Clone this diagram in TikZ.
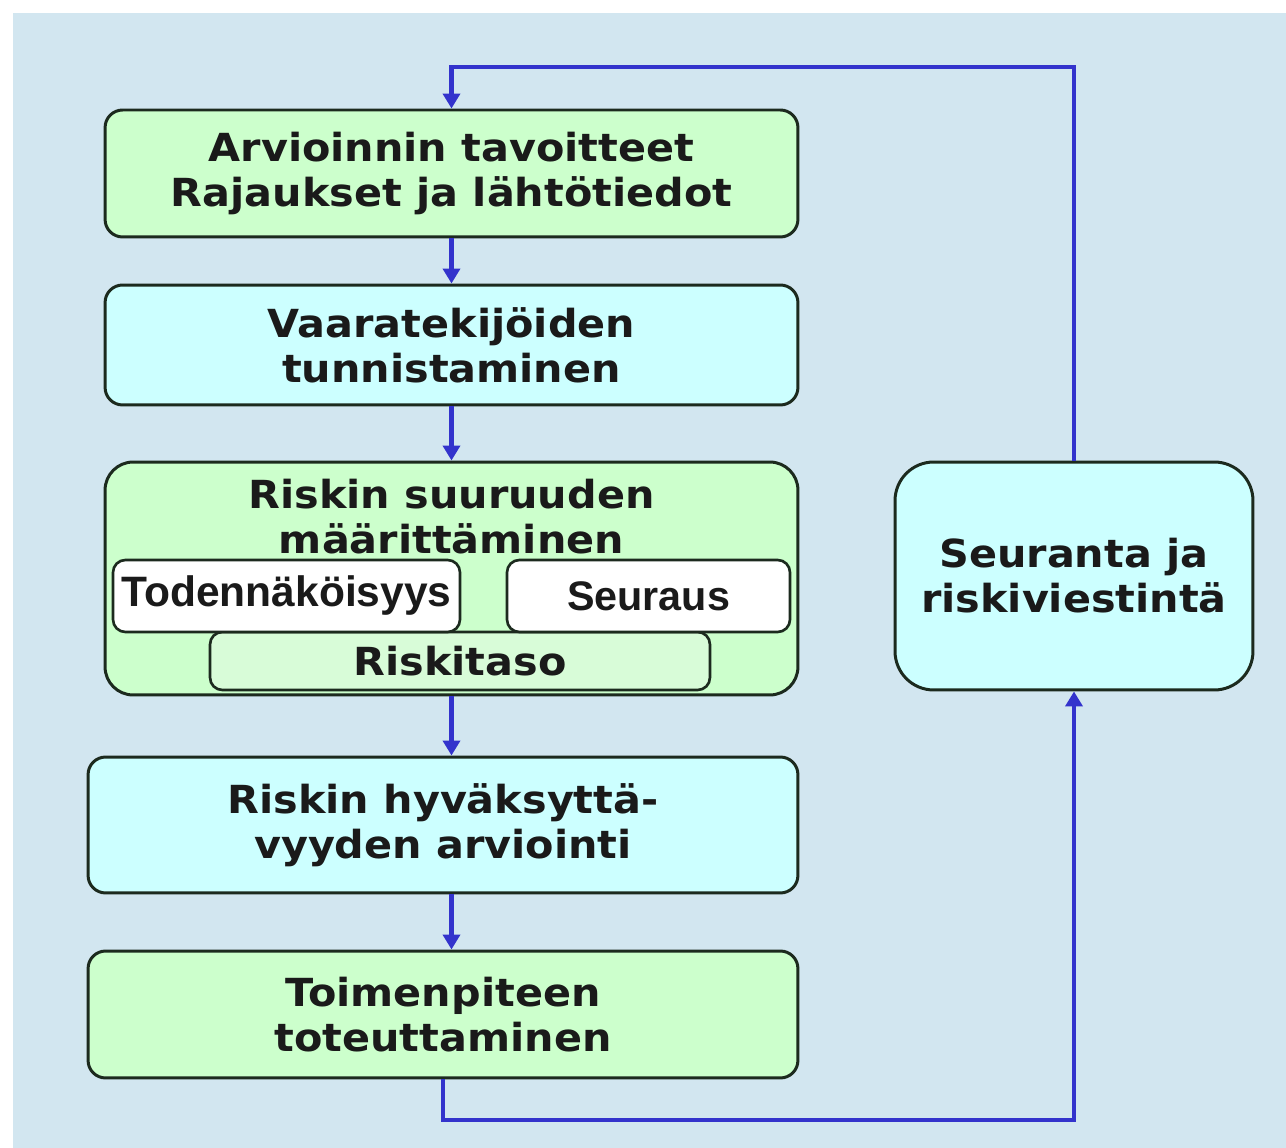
\documentclass[tikz,border=0pt]{standalone}
\usepackage{fontspec}
\setmainfont{DejaVu Sans}[FakeStretch=1.07]
\newfontfamily\narrowfont{Liberation Sans}
\usepackage{xcolor}
\definecolor{rkback}{HTML}{D2E6F0}
\definecolor{rkgreen}{HTML}{CCFFCC}
\definecolor{rkgreenlight}{HTML}{D8FCD8}
\definecolor{rkcyan}{HTML}{CCFFFF}
\definecolor{rkedge}{HTML}{1C2A1E}
\definecolor{rkblue}{HTML}{3333CC}
\definecolor{rktext}{HTML}{1A1A1A}
\usetikzlibrary{arrows.meta, positioning}

\begin{document}
\begin{tikzpicture}[x=0.02cm, y=-0.02cm,
    stage/.style={draw=rkedge, line width=1.7pt, rounded corners=10pt,
      align=center, inner sep=0pt, text=rktext,
      font=\fontsize{22}{25.6}\selectfont\bfseries},
    greenstage/.style={stage, fill=rkgreen},
    cyanstage/.style={stage, fill=rkcyan},
    part/.style={draw=rkedge, line width=1.5pt, rounded corners=7pt,
      inner sep=0pt, text=rktext},
    flow/.style={draw=rkblue, line width=2.3pt,
      -{Triangle[width=0.34cm, length=0.3cm]}}]
  % background
  \useasboundingbox (0,0) rectangle (1286,1148);
  \fill[rkback] (13,13) rectangle (1286,1148);

  % Box 1
  \node[greenstage, minimum width=13.86cm, minimum height=2.54cm] (goals)
       at (451.5,173.5) {Arvioinnin tavoitteet\\Rajaukset ja lähtötiedot};

  % Box 2
  \node[cyanstage, minimum width=13.86cm, minimum height=2.4cm] (hazard)
       at (451.5,345) {Vaaratekijöiden\\tunnistaminen};

  % Box 3 with its parts
  \node[greenstage, rounded corners=16pt, minimum width=13.86cm,
        minimum height=4.66cm] (sizebox) at (451.5,578.5) {};
  \node[align=center, text=rktext, font=\fontsize{22}{25.6}\selectfont\bfseries]
       (sizetitle) at (451.5,517) {Riskin suuruuden\\määrittäminen};
  \node[part, fill=rkgreenlight, minimum width=10cm, minimum height=1.16cm,
        font=\fontsize{22}{25.6}\selectfont\bfseries] (level) at (460,661) {Riskitaso};
  \node[part, fill=white, minimum width=6.94cm, minimum height=1.44cm,
        font=\narrowfont\fontsize{24.2}{27}\selectfont\bfseries] (prob)
       at (286.5,596) {Todennäköisyys};
  \node[part, fill=white, minimum width=5.66cm, minimum height=1.44cm,
        font=\narrowfont\fontsize{23.5}{27}\selectfont\bfseries] (cons)
       at (648.5,596) {Seuraus};

  % Box 4
  \node[cyanstage, minimum width=14.2cm, minimum height=2.72cm] (accept)
       at (443,825) {Riskin hyväksyttä-\\vyyden arviointi};

  % Box 5
  \node[greenstage, minimum width=14.2cm, minimum height=2.54cm] (action)
       at (443,1014.5) {Toimenpiteen\\toteuttaminen};

  % side box
  \node[cyanstage, rounded corners=22pt, minimum width=7.16cm,
        minimum height=4.56cm] (monitor) at (1074,576) {Seuranta ja\\riskiviestintä};

  % arrows down the chain
  \draw[flow] (goals.south) -- (hazard.north);
  \draw[flow] (hazard.south) -- (hazard.south |- sizebox.north);
  \draw[flow] (sizebox.south) -- (sizebox.south |- accept.north);
  \draw[flow] (sizebox.south |- accept.south) -- (sizebox.south |- action.north);

  % feedback loop
  \coordinate (lowturn) at (0,1120);
  \coordinate (topturn) at (0,67);
  \draw[flow] (action.south) -- (action.south |- lowturn) -| (monitor.south);
  \draw[flow] (monitor.north) -- (monitor.north |- topturn) -| (goals.north);
\end{tikzpicture}
\end{document}
